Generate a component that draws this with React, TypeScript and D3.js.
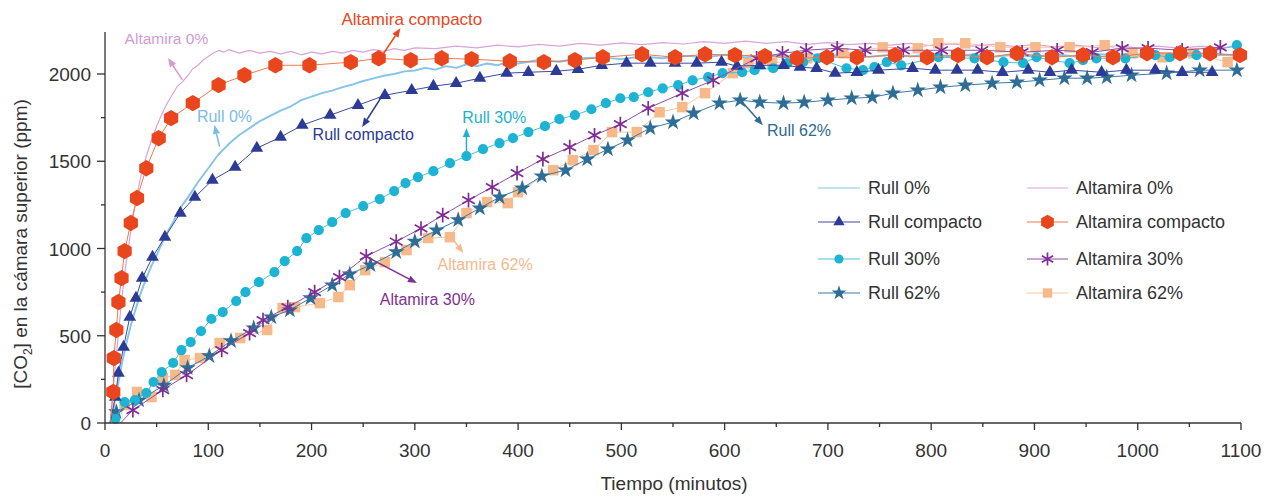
import React from 'react';
import * as d3 from 'd3';

// ---------- data (time in minutes, CO2 in ppm) ----------
const xTicks = [0, 100, 200, 300, 400, 500, 600, 700, 800, 900, 1000, 1100];
const yTicks = [0, 500, 1000, 1500, 2000];

const rull0Line: [number, number][] = [
  [5, 0], [8, 80], [12, 200], [16, 330], [20, 440], [25, 560], [30, 660], [35, 750], [40, 830], [45, 900],
  [50, 960], [55, 1030], [60, 1090], [65, 1140], [70, 1200], [75, 1250], [80, 1290], [90, 1380], [100, 1460],
  [110, 1540], [120, 1600], [130, 1650], [140, 1690], [150, 1730], [160, 1760], [170, 1790], [180, 1815],
  [190, 1850], [200, 1870], [210, 1890], [220, 1905], [230, 1925], [240, 1940], [250, 1960], [260, 1975],
  [270, 1990], [280, 2000], [290, 2015], [300, 2020], [310, 2035], [320, 2025], [330, 2045], [340, 2035],
  [350, 2055], [360, 2045], [370, 2060], [380, 2050], [390, 2070], [400, 2060], [420, 2080], [440, 2070],
  [460, 2090], [480, 2095], [500, 2085], [520, 2100], [540, 2090], [560, 2105], [580, 2095], [600, 2110],
  [620, 2095], [640, 2110], [660, 2100], [680, 2115], [700, 2100], [720, 2112], [740, 2098], [760, 2110],
  [780, 2100], [800, 2115], [820, 2100], [840, 2112], [860, 2098], [880, 2110], [900, 2100], [920, 2112],
  [940, 2100], [960, 2115], [980, 2105], [1000, 2110], [1020, 2100], [1040, 2115], [1060, 2105], [1080, 2110],
  [1100, 2105],
];

const altamira0Line: [number, number][] = [
  [5, 0], [8, 200], [12, 450], [16, 700], [20, 900], [25, 1100], [30, 1280], [35, 1420], [40, 1530], [45, 1620],
  [50, 1700], [55, 1770], [60, 1830], [65, 1880], [70, 1930], [75, 1955], [80, 1990], [85, 2030], [90, 2050],
  [95, 2080], [100, 2100], [105, 2120], [110, 2135], [115, 2125], [120, 2140], [130, 2120], [140, 2135],
  [150, 2120], [160, 2130], [170, 2115], [180, 2130], [190, 2110], [200, 2125], [210, 2115], [220, 2130],
  [230, 2120], [240, 2135], [250, 2125], [260, 2140], [270, 2130], [280, 2145], [290, 2135], [300, 2150],
  [320, 2145], [340, 2160], [360, 2150], [380, 2165], [400, 2155], [420, 2170], [440, 2160], [460, 2175],
  [480, 2165], [500, 2178], [520, 2168], [540, 2180], [560, 2172], [580, 2185], [600, 2175], [620, 2188],
  [640, 2176], [660, 2185], [680, 2170], [700, 2180], [720, 2168], [740, 2175], [760, 2165], [780, 2175],
  [800, 2162], [820, 2172], [840, 2160], [860, 2170], [880, 2158], [900, 2168], [920, 2155], [940, 2165],
  [960, 2152], [980, 2162], [1000, 2150], [1020, 2160], [1040, 2148], [1060, 2158], [1080, 2150], [1100, 2160],
];

const rullCompacto: [number, number][] = [
  [5, 0], [10, 149], [13, 286], [18, 435], [24, 607], [30, 716], [36, 830], [46, 951], [58, 1065], [73, 1203],
  [87, 1294], [104, 1392], [126, 1466], [147, 1575], [170, 1638], [191, 1707], [218, 1764], [245, 1821],
  [271, 1878], [297, 1907], [318, 1930], [340, 1947], [363, 1976], [389, 2005], [410, 2010], [437, 2016],
  [458, 2027], [481, 2050], [505, 2062], [528, 2062], [552, 2062], [573, 2062], [597, 2068], [612, 2045],
  [634, 2050], [657, 2050], [673, 2039], [689, 2033], [707, 2005], [728, 2010], [749, 2022], [782, 2033],
  [804, 2022], [825, 2022], [845, 2022], [869, 2010], [894, 2022], [915, 2010], [936, 2022], [965, 2010],
  [989, 2022], [1017, 2022], [1043, 2010], [1072, 2010],
];

const altamiraCompacto: [number, number][] = [
  [5, 0], [8, 178], [8.5, 372], [11, 533], [13, 693], [16, 830], [19, 985], [25, 1146], [31, 1289], [40, 1460],
  [52, 1632], [64, 1747], [85, 1833], [110, 1936], [135, 1993], [165, 2050], [198, 2050], [238, 2068],
  [265, 2090], [296, 2079], [326, 2090], [355, 2085], [392, 2073], [425, 2068], [455, 2079], [482, 2096],
  [520, 2113], [552, 2096], [581, 2113], [610, 2108], [639, 2102], [670, 2090], [699, 2096], [728, 2096],
  [765, 2108], [796, 2096], [826, 2108], [854, 2096], [883, 2119], [917, 2096], [947, 2108], [976, 2096],
  [1009, 2119], [1041, 2119], [1070, 2119], [1099, 2108],
];

const rull30: [number, number][] = [
  [8, 0], [10, 23], [19, 120], [29, 131], [40, 172], [47, 235], [55, 292], [66, 344], [74, 418], [83, 464],
  [93, 527], [103, 596], [114, 636], [127, 699], [136, 750], [149, 807], [164, 865], [174, 928], [186, 985],
  [195, 1059], [207, 1105], [220, 1151], [233, 1203], [250, 1243], [266, 1283], [280, 1329], [291, 1375],
  [303, 1409], [318, 1443], [334, 1489], [350, 1529], [366, 1569], [382, 1604], [395, 1632], [410, 1667],
  [426, 1701], [440, 1741], [455, 1764], [471, 1798], [485, 1833], [499, 1861], [512, 1867], [526, 1896],
  [540, 1918], [555, 1936], [569, 1964], [584, 1982], [598, 2005], [617, 2010], [629, 2022], [647, 2033],
  [661, 2062], [676, 2068], [690, 2090], [718, 2033], [734, 2022], [745, 2039], [757, 2068], [771, 2050],
  [807, 2096], [842, 2090], [870, 2068], [889, 2062], [902, 2096], [934, 2062], [947, 2079], [960, 2090],
  [988, 2090], [1017, 2108], [1031, 2096], [1057, 2108], [1096, 2165],
];

const rull62: [number, number][] = [
  [8, 0], [11, 63], [33, 130], [57, 215], [80, 315], [101, 384], [122, 470], [144, 544], [161, 607], [179, 647],
  [199, 716], [220, 790], [237, 853], [257, 905], [282, 980], [300, 1040], [321, 1105], [342, 1163],
  [363, 1231], [382, 1294], [404, 1346], [423, 1415], [446, 1449], [467, 1512], [487, 1569], [506, 1621],
  [528, 1690], [550, 1724], [570, 1775], [595, 1833], [615, 1850], [634, 1838], [657, 1833], [677, 1838],
  [700, 1850], [723, 1861], [743, 1867], [763, 1890], [787, 1907], [809, 1924], [833, 1936], [859, 1947],
  [883, 1953], [905, 1964], [929, 1976], [951, 1976], [970, 1982], [994, 1993], [1028, 2005], [1060, 2022],
  [1096, 2022],
];

const altamira30: [number, number][] = [
  [15, 0], [27, 74], [56, 189], [79, 275], [113, 418], [140, 515], [153, 590], [177, 664], [203, 750],
  [227, 836], [253, 956], [282, 1040], [306, 1115], [327, 1191], [352, 1277], [375, 1352], [399, 1432],
  [424, 1512], [450, 1581], [474, 1649], [499, 1713], [526, 1804], [559, 1890], [589, 1964], [631, 2090],
  [656, 2119], [679, 2136], [709, 2148], [736, 2136], [773, 2136], [810, 2136], [849, 2136], [888, 2125],
  [922, 2136], [956, 2125], [985, 2148], [1010, 2148], [1043, 2136], [1080, 2153],
];

const altamira62: [number, number][] = [
  [12, 0], [19, 103], [31, 178], [45, 149], [56, 258], [68, 275], [77, 361], [92, 372], [111, 458], [131, 487],
  [157, 533], [172, 659], [184, 664], [208, 687], [226, 722], [237, 790], [252, 876], [271, 922], [292, 991],
  [313, 1060], [334, 1065], [350, 1203], [370, 1266], [390, 1260], [400, 1323], [434, 1449], [453, 1506],
  [473, 1564], [491, 1667], [515, 1667], [537, 1781], [559, 1810], [581, 1890], [608, 2005], [623, 2062],
  [646, 2062], [680, 2090], [715, 2119], [753, 2153], [787, 2148], [807, 2176], [833, 2176], [867, 2153],
  [901, 2153], [934, 2153], [968, 2165], [995, 2119], [1024, 2096], [1054, 2119], [1087, 2068],
];

// annotations in data units: label, text anchor, arrow tail, arrow head
const annotations = [
  { label: 'Altamira 0%', color: '#d39ad3', text: [19, 2172], tail: [75, 1966], head: [61, 2092], size: 15.5 },
  { label: 'Altamira compacto', color: '#e8461e', text: [229, 2281], tail: [268, 2102], head: [286, 2262], size: 17 },
  { label: 'Rull 0%', color: '#79bde6', text: [89, 1725], tail: [111, 1582], head: [106, 1708], size: 16 },
  { label: 'Rull compacto', color: '#2b3a93', text: [201, 1622], tail: [269, 1880], head: [249, 1696], size: 16 },
  { label: 'Rull 30%', color: '#1fb1cf', text: [346, 1719], tail: [350, 1536], head: [350, 1691], size: 16 },
  { label: 'Rull 62%', color: '#2f6a92', text: [641, 1645], tail: [617, 1840], head: [637, 1707], size: 16 },
  { label: 'Altamira 62%', color: '#f4b98c', text: [322, 877], tail: [336, 1060], head: [347, 974], size: 16 },
  { label: 'Altamira 30%', color: '#7f2f93', text: [266, 676], tail: [254, 951], head: [302, 802], size: 16 },
];

// ---------- layout ----------
const W = 1276;
const H = 498;
const FONT = '"Liberation Sans", Arial, Helvetica, sans-serif';
const AXIS = '#333333';

const x = d3.scaleLinear().domain([0, 1100]).range([105, 1241]);
const y = d3.scaleLinear().domain([0, 2000]).range([423, 74]);
const yTop = y(2240);

type Shape = 'none' | 'triangle' | 'hexagon' | 'circle' | 'asterisk' | 'star' | 'square';

function markerPath(shape: Shape, scale = 1): string {
  switch (shape) {
    case 'triangle':
      return d3.symbol(d3.symbolTriangle, 70 * scale)() || '';
    case 'circle':
      return d3.symbol(d3.symbolCircle, 82 * scale)() || '';
    case 'star':
      return d3.symbol(d3.symbolStar, 85 * scale)() || '';
    case 'square':
      return d3.symbol(d3.symbolSquare, 110 * scale)() || '';
    case 'asterisk':
      return d3.symbol(d3.symbolAsterisk, 150 * scale)() || '';
    case 'hexagon': {
      const r = 8.2 * Math.sqrt(scale);
      const pts: [number, number][] = d3.range(6).map((i) => {
        const a = (Math.PI / 3) * i - Math.PI / 2;
        return [r * Math.cos(a), r * Math.sin(a)];
      });
      return (d3.line()(pts) || '') + 'Z';
    }
    default:
      return '';
  }
}

interface Series {
  name: string;
  data: [number, number][];
  color: string;
  lineColor: string;
  lineWidth: number;
  shape: Shape;
  skipFirst: boolean;
}

const drawOrder: Series[] = [
  { name: 'Rull 0%', data: rull0Line, color: '#86c3e8', lineColor: '#86c3e8', lineWidth: 1.9, shape: 'none', skipFirst: false },
  { name: 'Altamira 0%', data: altamira0Line, color: '#d9a4d9', lineColor: '#d9a4d9', lineWidth: 1.2, shape: 'none', skipFirst: false },
  { name: 'Altamira 62%', data: altamira62, color: '#f7b98a', lineColor: '#f7c8a2', lineWidth: 1, shape: 'square', skipFirst: true },
  { name: 'Rull 62%', data: rull62, color: '#2d6d96', lineColor: '#3c7aa2', lineWidth: 1, shape: 'star', skipFirst: true },
  { name: 'Rull 30%', data: rull30, color: '#1db3d2', lineColor: '#4cc0da', lineWidth: 1, shape: 'circle', skipFirst: true },
  { name: 'Rull compacto', data: rullCompacto, color: '#2c3b96', lineColor: '#3c4aa0', lineWidth: 1, shape: 'triangle', skipFirst: true },
  { name: 'Altamira 30%', data: altamira30, color: '#7f2d95', lineColor: '#9050a6', lineWidth: 1, shape: 'asterisk', skipFirst: true },
  { name: 'Altamira compacto', data: altamiraCompacto, color: '#e9461d', lineColor: '#ee7a50', lineWidth: 1, shape: 'hexagon', skipFirst: true },
];

const legendLeft = ['Rull 0%', 'Rull compacto', 'Rull 30%', 'Rull 62%'];
const legendRight = ['Altamira 0%', 'Altamira compacto', 'Altamira 30%', 'Altamira 62%'];

const line = d3
  .line<[number, number]>()
  .x((d) => x(d[0]))
  .y((d) => y(d[1]));

function Marker({ s, cx, cy, scale = 1 }: { s: Series; cx: number; cy: number; scale?: number }) {
  if (s.shape === 'none') return null;
  const d = markerPath(s.shape, scale);
  if (s.shape === 'asterisk') {
    return <path d={d} transform={`translate(${cx},${cy})`} fill="none" stroke={s.color} strokeWidth={1.7} />;
  }
  return <path d={d} transform={`translate(${cx},${cy})`} fill={s.color} stroke="none" />;
}

function Arrow({ a }: { a: (typeof annotations)[number] }) {
  const x1 = x(a.tail[0]);
  const y1 = y(a.tail[1]);
  const x2 = x(a.head[0]);
  const y2 = y(a.head[1]);
  const ang = Math.atan2(y2 - y1, x2 - x1);
  const L = 9;
  const Wd = 3.6;
  const bx = x2 - L * Math.cos(ang);
  const by = y2 - L * Math.sin(ang);
  const p1: [number, number] = [bx + Wd * Math.sin(ang), by - Wd * Math.cos(ang)];
  const p2: [number, number] = [bx - Wd * Math.sin(ang), by + Wd * Math.cos(ang)];
  return (
    <g>
      <line x1={x1} y1={y1} x2={bx} y2={by} stroke={a.color} strokeWidth={1.5} />
      <polygon points={`${x2},${y2} ${p1[0]},${p1[1]} ${p2[0]},${p2[1]}`} fill={a.color} />
      <text x={x(a.text[0])} y={y(a.text[1])} fill={a.color} fontSize={a.size} fontFamily={FONT}>
        {a.label}
      </text>
    </g>
  );
}

export default function App() {
  const byName = new Map(drawOrder.map((s) => [s.name, s]));
  const xMinor = d3.range(50, 1100, 100);
  const yMinor = d3.range(250, 2250, 500);
  const legendRows = [188, 222, 259, 293];

  return (
    <svg
      width={W}
      height={H}
      viewBox={`0 0 ${W} ${H}`}
      style={{ position: 'absolute', left: 0, top: 0, background: '#ffffff' }}
    >
      <rect x={0} y={0} width={W} height={H} fill="#ffffff" />

      {/* series */}
      {drawOrder.map((s) => (
        <g key={s.name}>
          <path d={line(s.data) || ''} fill="none" stroke={s.lineColor} strokeWidth={s.lineWidth} strokeLinejoin="round" />
          {s.shape !== 'none' &&
            s.data
              .slice(s.skipFirst ? 1 : 0)
              .map((d, i) => <Marker key={i} s={s} cx={x(d[0])} cy={y(d[1])} />)}
        </g>
      ))}

      {/* axes */}
      <g stroke={AXIS} strokeWidth={1.3} fill="none">
        <line x1={x(0)} y1={y(0)} x2={x(1100)} y2={y(0)} />
        <line x1={x(0)} y1={y(0)} x2={x(0)} y2={yTop} />
        {xTicks.map((t) => (
          <line key={`xt${t}`} x1={x(t)} y1={y(0)} x2={x(t)} y2={y(0) + 7} />
        ))}
        {xMinor.map((t) => (
          <line key={`xm${t}`} x1={x(t)} y1={y(0)} x2={x(t)} y2={y(0) + 4} />
        ))}
        {yTicks.map((t) => (
          <line key={`yt${t}`} x1={x(0) - 8} y1={y(t)} x2={x(0)} y2={y(t)} />
        ))}
        {yMinor.map((t) => (
          <line key={`ym${t}`} x1={x(0) - 4} y1={y(t)} x2={x(0)} y2={y(t)} />
        ))}
      </g>
      <g fill={AXIS} fontFamily={FONT} fontSize={19}>
        {xTicks.map((t) => (
          <text key={`xl${t}`} x={x(t)} y={y(0) + 34} textAnchor="middle">
            {t}
          </text>
        ))}
        {yTicks.map((t) => (
          <text key={`yl${t}`} x={x(0) - 14} y={y(t) + 7} textAnchor="end">
            {t}
          </text>
        ))}
        <text x={674} y={490} textAnchor="middle">
          Tiempo (minutos)
        </text>
        <text transform={`translate(27,244) rotate(-90)`} textAnchor="middle">
          [CO
          <tspan fontSize={12} dy={5}>
            2
          </tspan>
          <tspan dy={-5}>] en la cámara superior (ppm)</tspan>
        </text>
      </g>

      {/* annotations */}
      {annotations.map((a) => (
        <Arrow key={a.label} a={a} />
      ))}

      {/* legend */}
      {[
        { names: legendLeft, x0: 818, x1: 860, tx: 868 },
        { names: legendRight, x0: 1027, x1: 1068, tx: 1076 },
      ].map((col, ci) => (
        <g key={ci}>
          {col.names.map((n, i) => {
            const s = byName.get(n)!;
            const cy = legendRows[i];
            return (
              <g key={n}>
                <line x1={col.x0} y1={cy} x2={col.x1} y2={cy} stroke={s.lineColor} strokeWidth={1.1} />
                <Marker s={s} cx={(col.x0 + col.x1) / 2} cy={cy} scale={0.8} />
                <text x={col.tx} y={cy + 6} fontFamily={FONT} fontSize={18} fill={AXIS}>
                  {n}
                </text>
              </g>
            );
          })}
        </g>
      ))}
    </svg>
  );
}
